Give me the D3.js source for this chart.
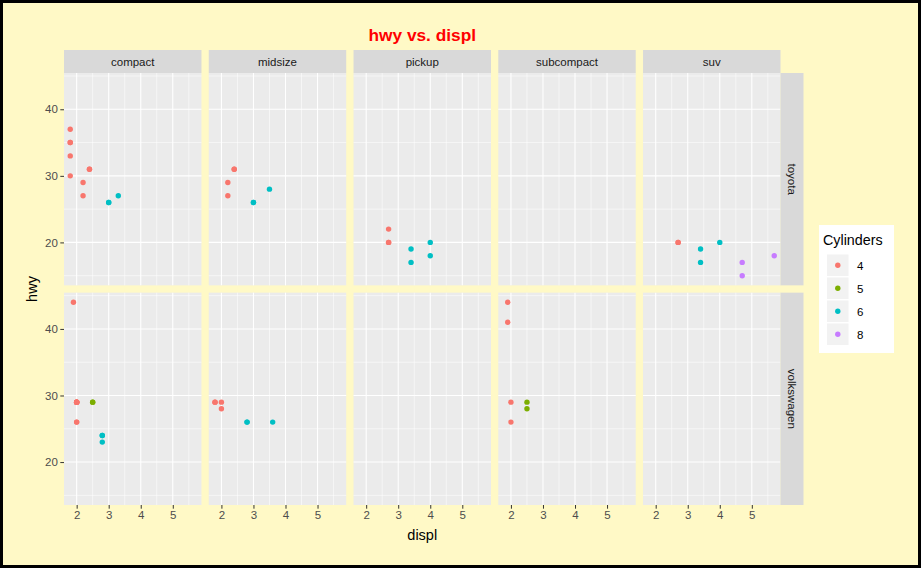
<!DOCTYPE html>
<html><head><meta charset="utf-8">
<script src="https://cdn.jsdelivr.net/npm/d3@7"></script>
<style>
html,body{margin:0;padding:0;background:#fff9c6;}
svg{display:block;font-family:"Liberation Sans",Arial,Helvetica,sans-serif;}
</style></head>
<body>
<script>
// ---- data (mpg: toyota & volkswagen) ----
const manufacturer = [
 "toyota","toyota","toyota","toyota","toyota","toyota",
 "toyota","toyota","toyota","toyota","toyota","toyota","toyota",
 "toyota","toyota","toyota","toyota","toyota","toyota","toyota",
 "toyota","toyota","toyota","toyota","toyota",
 "toyota","toyota",
 "toyota","toyota","toyota","toyota","toyota","toyota","toyota",
 "volkswagen","volkswagen","volkswagen","volkswagen","volkswagen",
 "volkswagen","volkswagen","volkswagen","volkswagen","volkswagen","volkswagen","volkswagen","volkswagen","volkswagen",
 "volkswagen","volkswagen","volkswagen","volkswagen","volkswagen","volkswagen",
 "volkswagen","volkswagen","volkswagen","volkswagen","volkswagen","volkswagen","volkswagen"
];
const vclass = [
 "suv","suv","suv","suv","suv","suv",
 "midsize","midsize","midsize","midsize","midsize","midsize","midsize",
 "compact","compact","compact","compact","compact","compact","compact",
 "compact","compact","compact","compact","compact",
 "suv","suv",
 "pickup","pickup","pickup","pickup","pickup","pickup","pickup",
 "compact","compact","compact","compact","compact",
 "compact","compact","compact","compact","compact","compact","compact","compact","compact",
 "subcompact","subcompact","subcompact","subcompact","subcompact","subcompact",
 "midsize","midsize","midsize","midsize","midsize","midsize","midsize"
];
const displ = [
 2.7,2.7,3.4,3.4,4.0,4.7,
 2.2,2.2,2.4,2.4,3.0,3.0,3.5,
 2.2,2.2,2.4,2.4,3.0,3.0,3.3,
 1.8,1.8,1.8,1.8,1.8,
 4.7,5.7,
 2.7,2.7,2.7,3.4,3.4,4.0,4.0,
 2.0,2.0,2.0,2.0,2.8,
 1.9,2.0,2.0,2.0,2.0,2.5,2.5,2.8,2.8,
 1.9,1.9,2.0,2.0,2.5,2.5,
 1.8,1.8,2.0,2.0,2.8,2.8,3.6
];
const hwy = [
 20,20,19,17,20,17,
 27,29,31,31,26,26,28,
 27,29,31,31,26,26,27,
 30,33,37,35,35,
 15,18,
 20,20,22,17,19,18,20,
 29,26,29,29,24,
 44,29,26,29,29,29,29,23,24,
 44,41,29,26,28,29,
 29,29,28,29,26,26,26
];
const cyl = [
 4,4,6,6,6,8,
 4,4,4,4,6,6,6,
 4,4,4,4,6,6,6,
 4,4,4,4,4,
 8,8,
 4,4,4,6,6,6,6,
 4,4,4,4,6,
 4,4,4,4,4,5,5,6,6,
 4,4,4,4,5,5,
 4,4,4,4,6,6,6
];
const classes = ["compact","midsize","pickup","subcompact","suv"];
const makers = ["toyota","volkswagen"];
const cylLevels = ["4","5","6","8"];
const cylColors = ["#F8766D","#7CAE00","#00BFC4","#C77CFF"];
const xTicks = [2,3,4,5];
const yTicks = [20,30,40];

// ---- layout ----
const W = 921, H = 568;
const panelL = 64, panelR = 780.5, gap = 7.3;
const stripTop = 50, stripH = 23;
const panelTop = stripTop + stripH, panelBottom = 505;
const nC = classes.length, nR = makers.length;
const pw = (panelR - panelL - gap*(nC-1))/nC;
const ph = (panelBottom - panelTop - gap*(nR-1))/nR;

const svg = d3.select("body").append("svg").attr("width",W).attr("height",H);
svg.append("rect").attr("x",1.5).attr("y",1.5).attr("width",W-3).attr("height",H-3)
  .attr("fill","#fff9c6").attr("stroke","#000").attr("stroke-width",3);

const xExt = d3.extent(displ), yExt = d3.extent(hwy);
const xPad = (xExt[1]-xExt[0])*0.05, yPad = (yExt[1]-yExt[0])*0.05;
const x = d3.scaleLinear().domain([xExt[0]-xPad, xExt[1]+xPad]).range([0,pw]);
const y = d3.scaleLinear().domain([yExt[0]-yPad, yExt[1]+yPad]).range([ph,0]);
const color = d3.scaleOrdinal().domain(cylLevels).range(cylColors);

const xMinor = [1.5,2.5,3.5,4.5,5.5].filter(v=>v>=x.domain()[0]&&v<=x.domain()[1]);
const yMinor = [15,25,35,45].filter(v=>v>=y.domain()[0]&&v<=y.domain()[1]);

const pts = displ.map((d,i)=>({displ:d,hwy:hwy[i],cyl:String(cyl[i]),cls:vclass[i],mk:manufacturer[i]}));

const tickFont = 11.5;
classes.forEach((c,ci)=>{
  const px = panelL + ci*(pw+gap);
  svg.append("rect").attr("x",px).attr("y",stripTop).attr("width",pw).attr("height",stripH).attr("fill","#d9d9d9");
  svg.append("text").attr("x",px+pw/2).attr("y",stripTop+stripH/2+4).attr("text-anchor","middle")
    .attr("font-size",11.5).attr("fill","#1a1a1a").text(c);
  makers.forEach((m,mi)=>{
    const py = panelTop + mi*(ph+gap);
    const g = svg.append("g").attr("transform",`translate(${px},${py})`);
    g.append("rect").attr("width",pw).attr("height",ph).attr("fill","#ebebeb");
    g.selectAll(".xm").data(xMinor).join("line").attr("x1",x).attr("x2",x).attr("y1",0).attr("y2",ph)
      .attr("stroke","#fff").attr("stroke-width",0.55);
    g.selectAll(".ym").data(yMinor).join("line").attr("y1",y).attr("y2",y).attr("x1",0).attr("x2",pw)
      .attr("stroke","#fff").attr("stroke-width",0.55);
    g.selectAll(".xM").data(xTicks).join("line").attr("x1",x).attr("x2",x).attr("y1",0).attr("y2",ph)
      .attr("stroke","#fff").attr("stroke-width",1.1);
    g.selectAll(".yM").data(yTicks).join("line").attr("y1",y).attr("y2",y).attr("x1",0).attr("x2",pw)
      .attr("stroke","#fff").attr("stroke-width",1.1);
    g.selectAll("circle").data(pts.filter(p=>p.cls===c&&p.mk===m)).join("circle")
      .attr("cx",d=>x(d.displ)).attr("cy",d=>y(d.hwy)).attr("r",2.7).attr("fill",d=>color(d.cyl));
    if (ci===0) {
      const ax = g.append("g").call(d3.axisLeft(y).tickValues(yTicks).tickFormat(d3.format("d")).tickSize(3.7).tickPadding(2.5));
      ax.select(".domain").remove();
      ax.selectAll("line").attr("stroke","#333");
      ax.selectAll("text").attr("fill","#4d4d4d").attr("font-size",tickFont).attr("font-family","Liberation Sans, Arial, sans-serif");
    }
    if (mi===nR-1) {
      const ax = g.append("g").attr("transform",`translate(0,${ph})`)
        .call(d3.axisBottom(x).tickValues(xTicks).tickFormat(d3.format("d")).tickSize(3.7).tickPadding(2.5));
      ax.select(".domain").remove();
      ax.selectAll("line").attr("stroke","#333");
      ax.selectAll("text").attr("fill","#4d4d4d").attr("font-size",tickFont).attr("font-family","Liberation Sans, Arial, sans-serif");
    }
    if (ci===nC-1) {
      svg.append("rect").attr("x",px+pw).attr("y",py).attr("width",stripH).attr("height",ph).attr("fill","#d9d9d9");
      svg.append("text").attr("transform",`translate(${px+pw+stripH/2-4},${py+ph/2}) rotate(90)`)
        .attr("text-anchor","middle").attr("font-size",11.5).attr("fill","#1a1a1a").text(m);
    }
  });
});

// title & axis titles
const midX = (panelL+panelR)/2;
svg.append("text").attr("x",midX).attr("y",41).attr("text-anchor","middle").attr("font-size",17.3)
  .attr("font-weight","bold").attr("fill","#ff0000").text("hwy vs. displ");
svg.append("text").attr("x",midX).attr("y",540).attr("text-anchor","middle").attr("font-size",14.5)
  .attr("fill","#000").text("displ");
svg.append("text").attr("transform",`translate(37,${(panelTop+panelBottom)/2}) rotate(-90)`)
  .attr("text-anchor","middle").attr("font-size",14.5).attr("fill","#000").text("hwy");

// legend
const lg = svg.append("g").attr("transform","translate(819,225)");
lg.append("rect").attr("width",75).attr("height",128).attr("fill","#fff");
lg.append("text").attr("x",4).attr("y",20).attr("font-size",14.3).attr("fill","#000").text("Cylinders");
cylLevels.forEach((lv,i)=>{
  const ky = 29.5 + i*23;
  lg.append("rect").attr("x",8).attr("y",ky).attr("width",21.5).attr("height",21.5).attr("fill","#f2f2f2");
  lg.append("circle").attr("cx",18.8).attr("cy",ky+10.8).attr("r",2.7).attr("fill",color(lv));
  lg.append("text").attr("x",38).attr("y",ky+15).attr("font-size",11.5).attr("fill","#000").text(lv);
});
</script>
</body></html>
